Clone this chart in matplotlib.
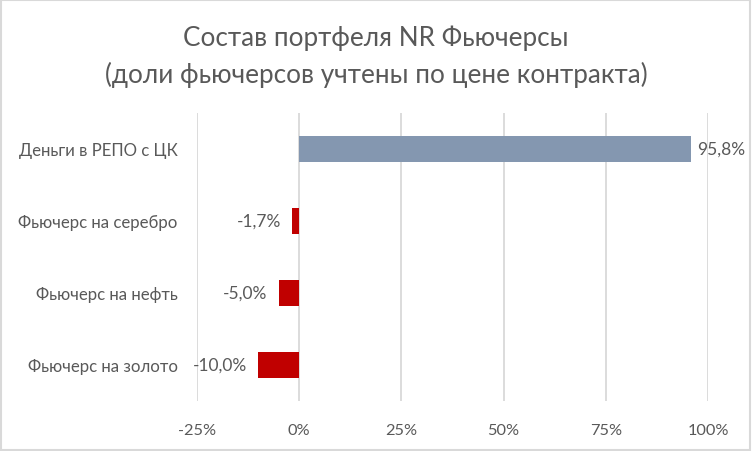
import matplotlib
matplotlib.use("Agg")
import matplotlib.pyplot as plt
from matplotlib.patches import Rectangle

categories = ["Деньги в РЕПО с ЦК", "Фьючерс на серебро", "Фьючерс на нефть", "Фьючерс на золото"]
values = [95.8, -1.7, -5.0, -10.0]
colors = ["#8497B0", "#C00000", "#C00000", "#C00000"]
xticks = [-25, 0, 25, 50, 75, 100]
title = "Состав портфеля NR Фьючерсы\n(доли фьючерсов учтены по цене контракта)"

plt.rcParams['font.family'] = ['Lato', 'DejaVu Sans']
TXT = "#595959"

fig = plt.figure(figsize=(7.52, 4.52), dpi=100)
ax = fig.add_axes([197/752, 1-402/452, (708-197)/752, 288/452])

ypos = list(range(len(categories)))
ax.barh(ypos, values, height=0.35, color=colors, zorder=3)
ax.set_ylim(len(categories)-0.5, -0.5)
ax.set_xlim(-25, 100)
ax.set_xticks(xticks)
ax.set_xticklabels([f"{t}%" for t in xticks], fontsize=11.8, color=TXT)
ax.set_yticks(ypos)
ax.set_yticklabels(categories, fontsize=12.1, color=TXT)
ax.tick_params(axis='both', length=0)
ax.tick_params(axis='x', pad=16)
ax.tick_params(axis='y', pad=14)
ax.grid(axis='x', color="#D9D9D9", linewidth=1.3, zorder=0)
for s in ax.spines.values():
    s.set_visible(False)

for y, v in zip(ypos, values):
    lab = f"{v:.1f}%".replace(".", ",")
    if v >= 0:
        ax.annotate(lab, (v, y), xytext=(4.5, 0), textcoords="offset points",
                    ha="left", va="center", fontsize=12.5, color=TXT)
    else:
        ax.annotate(lab, (v, y), xytext=(-8, 0), textcoords="offset points",
                    ha="right", va="center", fontsize=12.5, color=TXT)

fig.text(0.5, 1-57/452, title, ha="center", va="center", fontsize=18.8, color=TXT,
         linespacing=1.5)

fig.patches.append(Rectangle((0.001, 0.002), 0.997, 0.996, transform=fig.transFigure,
                             fill=False, edgecolor="#D9D9D9", linewidth=1.5))

fig.savefig("out.png", dpi=100)
